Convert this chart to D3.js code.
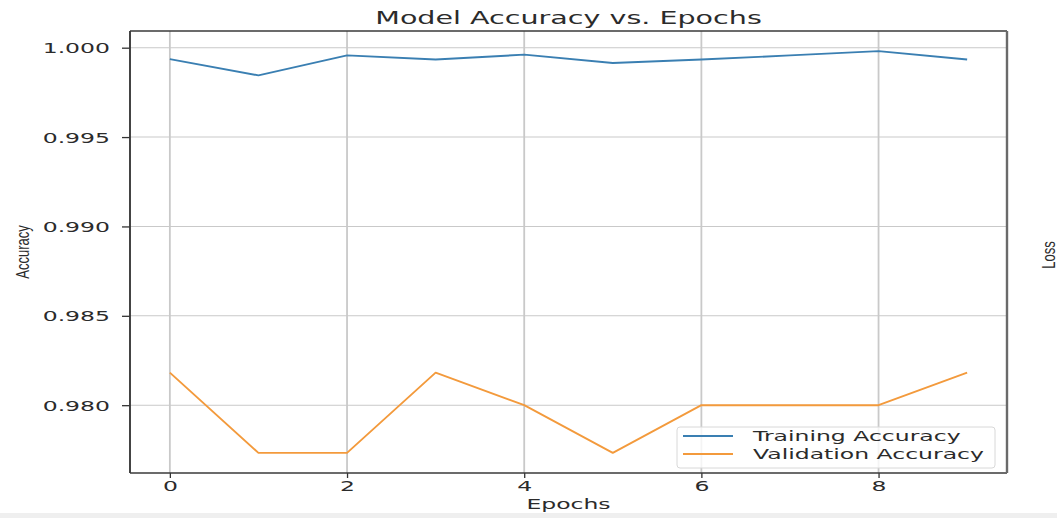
<!DOCTYPE html>
<html>
<head>
<meta charset="utf-8">
<script src="https://cdn.jsdelivr.net/npm/d3@7"></script>
<style>
  html, body { margin: 0; padding: 0; background: #ffffff; }
  svg { display: block; }
</style>
</head>
<body>
<svg id="chart" width="1057" height="518"></svg>
<script>
// Per-epoch accuracy of the model on the training and validation sets
const epochs = [0, 1, 2, 3, 4, 5, 6, 7, 8, 9];
const trainAcc = [0.99936, 0.99845, 0.99957, 0.99934, 0.99961, 0.99914, 0.99934, 0.99957, 0.99981, 0.99934];
const valAcc = [0.98182, 0.97733, 0.97733, 0.98182, 0.98000, 0.97733, 0.98000, 0.98000, 0.98000, 0.98182];
const yTicks = [0.980, 0.985, 0.990, 0.995, 1.000];
const xTicks = [0, 2, 4, 6, 8];
const seriesNames = ["Training Accuracy", "Validation Accuracy"];

const W = 1057, H = 518;
const plot = { left: 130, right: 1007, top: 31, bottom: 473 };
const SX = 1.68;          // horizontal stretch applied to the DejaVu text
const SX_LABEL = 1.45;    // stretch of the narrower axis-title font
const textColor = "#2b2b2b";
const colors = ["#3a7fb2", "#f39a3c"];
const dejavu = "'DejaVu Sans', sans-serif";

const svg = d3.select("#chart");

svg.append("rect").attr("width", W).attr("height", H).attr("fill", "#ffffff");
svg.append("rect").attr("x", 0).attr("y", 513).attr("width", W).attr("height", H - 513).attr("fill", "#efefef");

// Scales with 5% padding on both data extents
const xMin = d3.min(epochs), xMax = d3.max(epochs);
const xPad = (xMax - xMin) * 0.05;
const x = d3.scaleLinear().domain([xMin - xPad, xMax + xPad]).range([plot.left, plot.right]);

const allY = trainAcc.concat(valAcc);
const yMin = d3.min(allY), yMax = d3.max(allY);
const yPad = (yMax - yMin) * 0.05;
const y = d3.scaleLinear().domain([yMin - yPad, yMax + yPad]).range([plot.bottom, plot.top]);

// Grid
const grid = svg.append("g").attr("class", "grid");
grid.selectAll("line.vx").data(xTicks).join("line")
  .attr("class", "vx")
  .attr("x1", d => x(d)).attr("x2", d => x(d))
  .attr("y1", plot.top).attr("y2", plot.bottom)
  .attr("stroke", "#c9c9c9").attr("stroke-width", 1.8);
grid.selectAll("line.hy").data(yTicks).join("line")
  .attr("class", "hy")
  .attr("x1", plot.left).attr("x2", plot.right)
  .attr("y1", d => y(d)).attr("y2", d => y(d))
  .attr("stroke", "#c9c9c9").attr("stroke-width", 1.1);

// Lines
const line = d3.line().x((d, i) => x(epochs[i])).y(d => y(d));
[trainAcc, valAcc].forEach((series, k) => {
  svg.append("path")
    .datum(series)
    .attr("fill", "none")
    .attr("stroke", colors[k])
    .attr("stroke-width", 1.9)
    .attr("stroke-linejoin", "round")
    .attr("d", line);
});

// Axes
const yAxis = svg.append("g")
  .attr("transform", `translate(${plot.left},0)`)
  .call(d3.axisLeft(y).tickValues(yTicks).tickFormat(d3.format(".3f")).tickSize(8).tickPadding(0));
const xAxis = svg.append("g")
  .attr("transform", `translate(0,${plot.bottom})`)
  .call(d3.axisBottom(x).tickValues(xTicks).tickFormat(d3.format("d")).tickSize(5).tickPadding(0));

[yAxis, xAxis].forEach(a => {
  a.select(".domain").remove();
  a.selectAll(".tick line").attr("stroke", "#333").attr("stroke-width", 1.3);
  a.selectAll(".tick text")
    .attr("fill", textColor)
    .attr("font-family", dejavu)
    .attr("font-size", 14)
    .attr("x", null).attr("y", null).attr("dy", null);
});
yAxis.selectAll(".tick text")
  .attr("text-anchor", "end")
  .attr("transform", `translate(-20,5) scale(${SX},1)`);
xAxis.selectAll(".tick text")
  .attr("text-anchor", "middle")
  .attr("transform", `translate(0,18) scale(${SX},1)`);

// Frame
const frame = svg.append("g").attr("fill", "none");
frame.append("line").attr("x1", plot.left).attr("x2", plot.right).attr("y1", plot.top).attr("y2", plot.top)
  .attr("stroke", "#3a3a3a").attr("stroke-width", 1.3);
frame.append("line").attr("x1", plot.left).attr("x2", plot.right).attr("y1", plot.bottom).attr("y2", plot.bottom)
  .attr("stroke", "#3a3a3a").attr("stroke-width", 1.3);
frame.append("line").attr("x1", plot.left).attr("x2", plot.left).attr("y1", plot.top).attr("y2", plot.bottom)
  .attr("stroke", "#3a3a3a").attr("stroke-width", 1.9);
frame.append("line").attr("x1", plot.right).attr("x2", plot.right).attr("y1", plot.top).attr("y2", plot.bottom)
  .attr("stroke", "#6a6a6a").attr("stroke-width", 2.4);

// Titles
const cx = (plot.left + plot.right) / 2, cy = (plot.top + plot.bottom) / 2;
svg.append("text")
  .attr("transform", `translate(${cx},24) scale(${SX},1)`)
  .attr("text-anchor", "middle")
  .attr("font-family", dejavu).attr("font-size", 17).attr("fill", textColor)
  .text("Model Accuracy vs. Epochs");
svg.append("text")
  .attr("transform", `translate(${cx},508.5) scale(${SX},1)`)
  .attr("text-anchor", "middle")
  .attr("font-family", dejavu).attr("font-size", 14).attr("fill", textColor)
  .text("Epochs");
svg.append("text")
  .attr("transform", `translate(29,${cy}) scale(${SX_LABEL},1) rotate(-90)`)
  .attr("text-anchor", "middle")
  .attr("font-family", "'Liberation Sans', Arial, sans-serif").attr("font-size", 13).attr("fill", textColor)
  .text("Accuracy");
svg.append("text")
  .attr("transform", `translate(1055,${cy + 3}) scale(${SX_LABEL},1) rotate(-90)`)
  .attr("text-anchor", "middle")
  .attr("font-family", "'Liberation Sans', Arial, sans-serif").attr("font-size", 13).attr("fill", textColor)
  .text("Loss");

// Legend
const legend = svg.append("g");
legend.append("rect")
  .attr("x", 677).attr("y", 427).attr("width", 318).attr("height", 41).attr("rx", 3)
  .attr("fill", "#ffffff").attr("fill-opacity", 0.8)
  .attr("stroke", "#d8d8d8").attr("stroke-width", 1);
seriesNames.forEach((name, i) => {
  const ly = 436 + i * 18;
  legend.append("line")
    .attr("x1", 683).attr("x2", 733).attr("y1", ly).attr("y2", ly)
    .attr("stroke", colors[i]).attr("stroke-width", 1.9);
  legend.append("text")
    .attr("transform", `translate(753,${ly + 5}) scale(${SX},1)`)
    .attr("font-family", dejavu).attr("font-size", 14).attr("fill", textColor)
    .text(name);
});
</script>
</body>
</html>
